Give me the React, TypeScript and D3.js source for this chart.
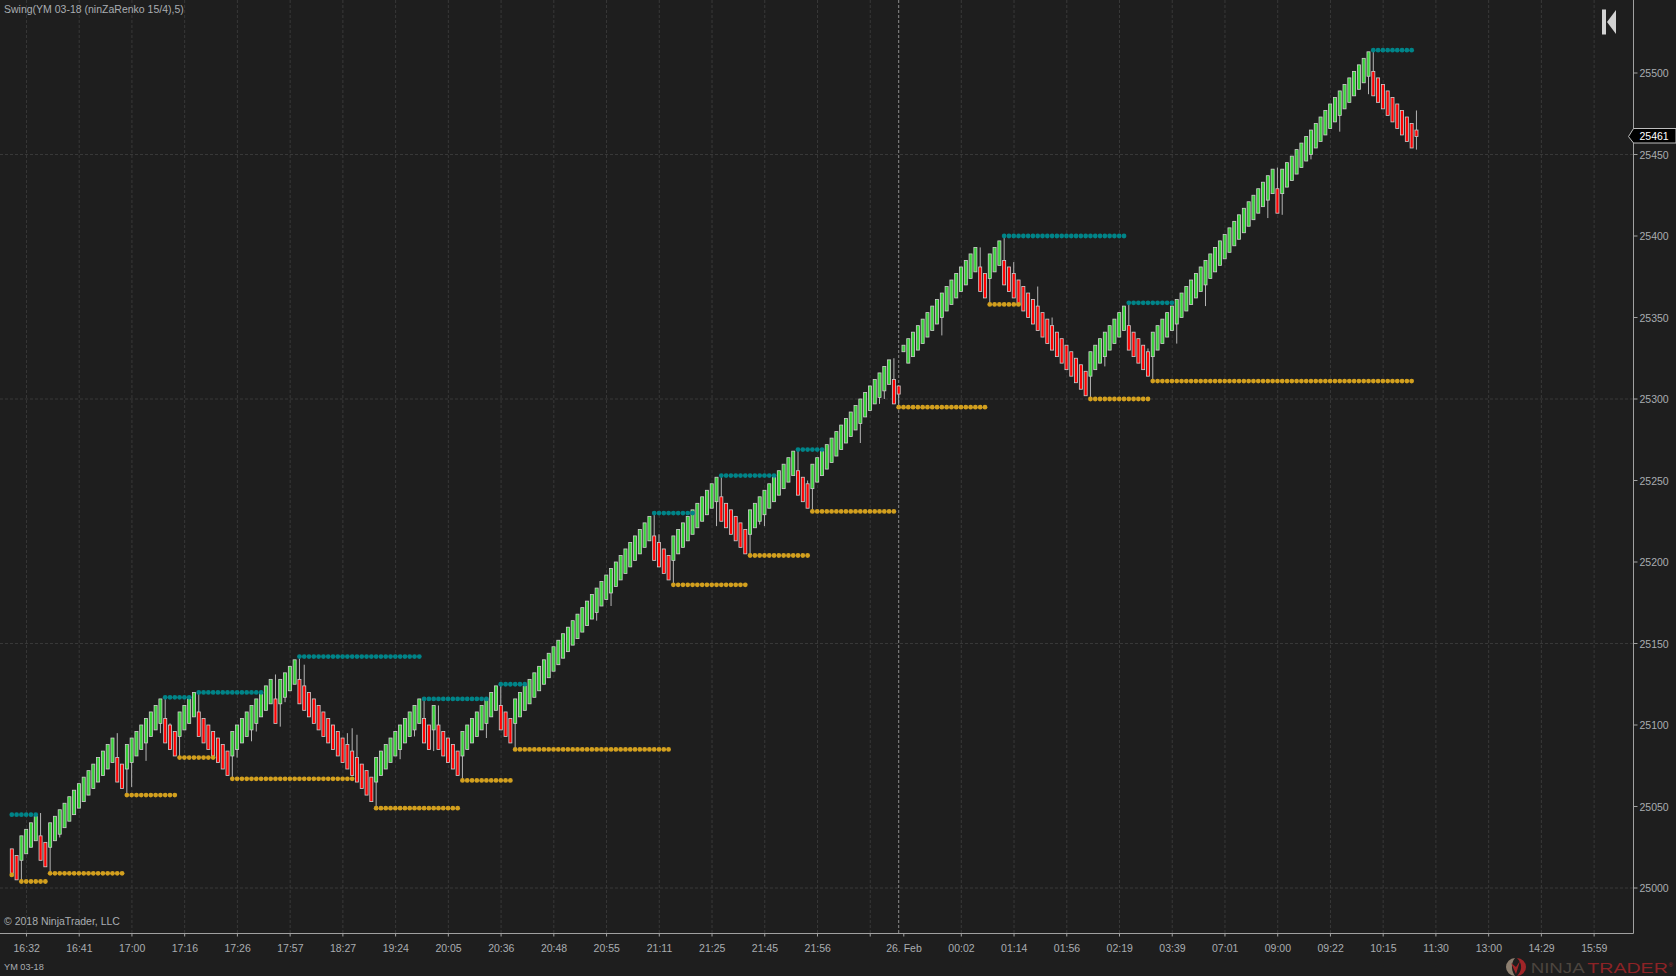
import React from "react";
import * as d3 from "d3";

// Renko bar bodies, one entry per bar, grouped by run
const closes = [
  25009, 25005,
  25032, 25036, 25040, 25044,
  25017, 25013,
  25040, 25044, 25048, 25052, 25056, 25060, 25064, 25068, 25072, 25076, 25080, 25084, 25088, 25092,
  25065, 25061,
  25088, 25092, 25096, 25100, 25104, 25108, 25112, 25116,
  25089, 25085, 25081,
  25108, 25112, 25116, 25120,
  25093, 25089, 25085, 25081, 25077, 25073, 25069,
  25096, 25100, 25104, 25108, 25112, 25116, 25120, 25124, 25128,
  25101,
  25128, 25132, 25136, 25140,
  25113, 25109, 25105, 25101, 25097, 25093, 25089, 25085, 25081, 25077, 25073, 25069, 25065, 25061, 25057, 25053,
  25080, 25084, 25088, 25092, 25096, 25100, 25104, 25108, 25112, 25116,
  25089, 25085,
  25112,
  25085, 25081, 25077, 25073, 25069,
  25096, 25100, 25104, 25108, 25112, 25116, 25120, 25124,
  25097, 25093, 25089,
  25116, 25120, 25124, 25128, 25132, 25136, 25140, 25144, 25148, 25152, 25156, 25160, 25164, 25168, 25172, 25176, 25180, 25184, 25188, 25192, 25196, 25200, 25204, 25208, 25212, 25216, 25220, 25224, 25228,
  25201, 25197, 25193, 25189,
  25216, 25220, 25224, 25228, 25232, 25236, 25240, 25244, 25248, 25252,
  25225, 25221, 25217, 25213, 25209, 25205,
  25232, 25236, 25240, 25244, 25248, 25252, 25256, 25260, 25264, 25268,
  25241, 25237, 25233,
  25260, 25264, 25268, 25272, 25276, 25280, 25284, 25288, 25292, 25296, 25300, 25304, 25308, 25312, 25316, 25320, 25324,
  25297,
  25303,
  25333,
  25337, 25341, 25345, 25349, 25353, 25357, 25361, 25365, 25369, 25373, 25377, 25381, 25385, 25389, 25393,
  25366, 25362,
  25389, 25393, 25397,
  25370, 25366, 25362, 25358, 25354, 25350, 25346, 25342, 25338, 25334, 25330, 25326, 25322, 25318, 25314, 25310, 25306, 25302,
  25329, 25333, 25337, 25341, 25345, 25349, 25353, 25357,
  25330, 25326, 25322, 25318, 25314,
  25341, 25345, 25349, 25353, 25357, 25361, 25365, 25369, 25373, 25377, 25381, 25385, 25389, 25393, 25397, 25401, 25405, 25409, 25413, 25417, 25421, 25425, 25429, 25433, 25437, 25441,
  25414,
  25441, 25445, 25449, 25453, 25457, 25461, 25465, 25469, 25473, 25477, 25481, 25485, 25489, 25493, 25497, 25501, 25505, 25509, 25513,
  25486, 25482, 25478, 25474, 25470, 25466, 25462, 25458, 25454,
  25461,
];

const opens = [
  25024, 25020,
  25017, 25021, 25025, 25029,
  25032, 25028,
  25025, 25029, 25033, 25037, 25041, 25045, 25049, 25053, 25057, 25061, 25065, 25069, 25073, 25077,
  25080, 25076,
  25073, 25077, 25081, 25085, 25089, 25093, 25097, 25101,
  25104, 25100, 25096,
  25093, 25097, 25101, 25105,
  25108, 25104, 25100, 25096, 25092, 25088, 25084,
  25081, 25085, 25089, 25093, 25097, 25101, 25105, 25109, 25113,
  25116,
  25113, 25117, 25121, 25125,
  25128, 25124, 25120, 25116, 25112, 25108, 25104, 25100, 25096, 25092, 25088, 25084, 25080, 25076, 25072, 25068,
  25065, 25069, 25073, 25077, 25081, 25085, 25089, 25093, 25097, 25101,
  25104, 25100,
  25097,
  25100, 25096, 25092, 25088, 25084,
  25081, 25085, 25089, 25093, 25097, 25101, 25105, 25109,
  25112, 25108, 25104,
  25101, 25105, 25109, 25113, 25117, 25121, 25125, 25129, 25133, 25137, 25141, 25145, 25149, 25153, 25157, 25161, 25165, 25169, 25173, 25177, 25181, 25185, 25189, 25193, 25197, 25201, 25205, 25209, 25213,
  25216, 25212, 25208, 25204,
  25201, 25205, 25209, 25213, 25217, 25221, 25225, 25229, 25233, 25237,
  25240, 25236, 25232, 25228, 25224, 25220,
  25217, 25221, 25225, 25229, 25233, 25237, 25241, 25245, 25249, 25253,
  25256, 25252, 25248,
  25245, 25249, 25253, 25257, 25261, 25265, 25269, 25273, 25277, 25281, 25285, 25289, 25293, 25297, 25301, 25305, 25309,
  25312,
  25308,
  25329,
  25322, 25326, 25330, 25334, 25338, 25342, 25346, 25350, 25354, 25358, 25362, 25366, 25370, 25374, 25378,
  25381, 25377,
  25374, 25378, 25382,
  25385, 25381, 25377, 25373, 25369, 25365, 25361, 25357, 25353, 25349, 25345, 25341, 25337, 25333, 25329, 25325, 25321, 25317,
  25314, 25318, 25322, 25326, 25330, 25334, 25338, 25342,
  25345, 25341, 25337, 25333, 25329,
  25326, 25330, 25334, 25338, 25342, 25346, 25350, 25354, 25358, 25362, 25366, 25370, 25374, 25378, 25382, 25386, 25390, 25394, 25398, 25402, 25406, 25410, 25414, 25418, 25422, 25426,
  25429,
  25426, 25430, 25434, 25438, 25442, 25446, 25450, 25454, 25458, 25462, 25466, 25470, 25474, 25478, 25482, 25486, 25490, 25494, 25498,
  25501, 25497, 25493, 25489, 25485, 25481, 25477, 25473, 25469,
  25465,
];

// Wicks that stick out of a body: [bar, price reached]
const wicks: [number, number][] = [
  [2, 25004], [6, 25046], [8, 25009], [10, 25031], [22, 25095], [24, 25057], [25, 25062], [28, 25078],
  [31, 25095], [32, 25116], [33, 25101], [35, 25080], [39, 25120], [46, 25067], [47, 25080], [50, 25090],
  [51, 25096], [55, 25131], [56, 25099], [57, 25114], [60, 25141], [61, 25137], [70, 25095], [71, 25098],
  [72, 25094], [76, 25049], [81, 25079], [84, 25093], [86, 25116], [88, 25084], [89, 25112], [94, 25066],
  [99, 25092], [102, 25125], [105, 25085], [122, 25164], [125, 25173], [134, 25230], [135, 25217], [138, 25186],
  [147, 25222], [148, 25253], [154, 25204], [156, 25223], [157, 25222], [164, 25269], [166, 25250], [167, 25231],
  [177, 25273], [181, 25297], [182, 25300], [184, 25325], [185, 25295], [194, 25339], [202, 25393], [204, 25358],
  [207, 25400], [209, 25384], [214, 25369], [217, 25350], [225, 25300], [228, 25320], [233, 25359], [237, 25331],
  [238, 25311], [243, 25334], [249, 25357], [262, 25411], [264, 25442], [265, 25413], [271, 25447], [277, 25464],
  [283, 25487], [284, 25514], [293, 25477], [293, 25453],
];

// Swing indicator: [first bar, last bar, price]
const swingHighs: [number, number, number][] = [
  [0, 5, 25045], [32, 37, 25117], [39, 52, 25120], [60, 85, 25142], [86, 99, 25116], [102, 107, 25125],
  [134, 142, 25230], [148, 159, 25253], [164, 169, 25269], [207, 232, 25400], [233, 242, 25359], [284, 292, 25514],
];
const swingLows: [number, number, number][] = [
  [0, 0, 25008], [2, 7, 25004], [8, 23, 25009], [24, 34, 25057], [35, 42, 25080], [46, 71, 25067],
  [76, 93, 25049], [94, 104, 25066], [105, 137, 25085], [138, 153, 25186], [154, 166, 25204], [167, 184, 25231],
  [185, 203, 25295], [204, 210, 25358], [225, 237, 25300], [238, 292, 25311],
];

// Axes
const priceLabels = [25000, 25050, 25100, 25150, 25200, 25250, 25300, 25350, 25400, 25450, 25500];
const gridPrices = [25000, 25150, 25300, 25450];
const timeTickBars = [3, 14, 25, 36, 47, 58, 69, 80, 91, 102, 113, 124, 135, 146, 157, 168, 186, 198, 209, 220, 231, 242, 253, 264, 275, 286, 297, 308, 319, 330];
const timeTickLabels = ["16:32", "16:41", "17:00", "17:16", "17:26", "17:57", "18:27", "19:24", "20:05", "20:36", "20:48", "20:55", "21:11", "21:25", "21:45", "21:56", "26. Feb", "00:02", "01:14", "01:56", "02:19", "03:39", "07:01", "09:00", "09:22", "10:15", "11:30", "13:00", "14:29", "15:59"];
const unlabeledGridBars = [179];
const noGridBars = [186];
const sessionBreakBar = 185;
const lastPrice = 25461;

const W = 1676;
const H = 976;
const AXIS_X = 1633.5;
const AXIS_Y = 933.5;
const FONT = "'Liberation Sans', Arial, sans-serif";
const BG = "#1e1e1e";
const LABEL = "#a9adb1";

const x = d3.scaleLinear().domain([0, 293]).range([11.8, 11.8 + 293 * 4.794]);
const y = d3.scaleLinear().domain([25000, 25500]).range([888, 73]);

function dots(segments: [number, number, number][]) {
  return segments.flatMap(([a, b, p]) => d3.range(a, b + 1).map((i) => ({ i, p })));
}

export default function App() {
  const gridBars = [...timeTickBars.filter((b) => !noGridBars.includes(b)), ...unlabeledGridBars];
  const bodyW = 3.05;
  return (
    <svg
      width={W}
      height={H}
      viewBox={`0 0 ${W} ${H}`}
      style={{ position: "fixed", left: 0, top: 0, display: "block" }}
      fontFamily={FONT}
    >
      <rect x={0} y={0} width={W} height={H} fill={BG} />

      {/* grid */}
      {gridBars.map((b) => (
        <line key={`vg${b}`} x1={x(b) + 0.3} x2={x(b) + 0.3} y1={0} y2={AXIS_Y} stroke="#383838" strokeDasharray="3 2" />
      ))}
      {gridPrices.map((p) => (
        <line key={`hg${p}`} x1={0} x2={AXIS_X} y1={y(p)} y2={y(p)} stroke="#383838" strokeDasharray="3 2" />
      ))}
      <line x1={x(sessionBreakBar)} x2={x(sessionBreakBar)} y1={0} y2={AXIS_Y} stroke="#8c8c8c" strokeDasharray="3 2" />

      {/* wicks */}
      {wicks.map(([b, p], k) => {
        const edge = p > Math.max(opens[b], closes[b]) ? Math.max(opens[b], closes[b]) : Math.min(opens[b], closes[b]);
        return <line key={`w${k}`} x1={x(b)} x2={x(b)} y1={y(edge)} y2={y(p)} stroke="#b4b4b4" strokeWidth={1} />;
      })}

      {/* bodies */}
      {closes.map((c, i) => {
        const o = opens[i];
        const up = c > o;
        return (
          <rect
            key={`b${i}`}
            x={x(i) - bodyW / 2}
            y={y(Math.max(o, c))}
            width={bodyW}
            height={Math.abs(y(o) - y(c))}
            fill={up ? "#36d136" : "#ff0000"}
            stroke="#cfcfcf"
            strokeWidth={0.8}
          />
        );
      })}

      {/* swing dots */}
      {dots(swingHighs).map((d, k) => (
        <circle key={`h${k}`} cx={x(d.i)} cy={y(d.p)} r={2.4} fill="#008488" />
      ))}
      {dots(swingLows).map((d, k) => (
        <circle key={`l${k}`} cx={x(d.i)} cy={y(d.p)} r={2.4} fill="#d29f1e" />
      ))}

      {/* axes */}
      <line x1={0} x2={AXIS_X} y1={AXIS_Y} y2={AXIS_Y} stroke="#a0a0a0" />
      <line x1={AXIS_X} x2={AXIS_X} y1={0} y2={AXIS_Y} stroke="#a0a0a0" />
      {priceLabels.map((p) => (
        <g key={`pl${p}`}>
          <line x1={AXIS_X} x2={AXIS_X + 4} y1={y(p)} y2={y(p)} stroke="#a0a0a0" />
          <text x={1639.5} y={y(p) + 4} fontSize={10.5} fill={LABEL}>{p}</text>
        </g>
      ))}
      {[...timeTickBars, ...unlabeledGridBars].map((b) => (
        <line key={`tt${b}`} x1={x(b) + 0.3} x2={x(b) + 0.3} y1={AXIS_Y} y2={AXIS_Y + 3} stroke="#a0a0a0" />
      ))}
      {timeTickBars.map((b, k) => (
        <text key={`tl${b}`} x={x(b) + 0.5} y={952} fontSize={10.5} fill={LABEL} textAnchor="middle">{timeTickLabels[k]}</text>
      ))}

      {/* last price marker */}
      <path d={`M1628.5 ${y(lastPrice)} L1633.5 128.5 L1676 128.5 L1676 143 L1633.5 143 Z`} fill="#000" stroke="#bdbdbd" />
      <text x={1639.5} y={y(lastPrice) + 3.6} fontSize={10.5} fill="#fff">{lastPrice}</text>

      {/* captions */}
      <text x={4} y={13} fontSize={10.5} fill={LABEL}>Swing(YM 03-18 (ninZaRenko 15/4),5)</text>
      <text x={4} y={925} fontSize={10.5} fill={LABEL}>© 2018 NinjaTrader, LLC</text>
      <text x={4} y={970} fontSize={9.2} fill={LABEL}>YM 03-18</text>

      {/* chart-scroll icon */}
      <rect x={1602} y={9.5} width={4} height={25} fill="#d2d2d2" />
      <path d="M1607 22 L1616 10 L1616 34 Z" fill="#d2d2d2" />

      {/* NinjaTrader logo */}
      <path d="M1515 958 A9 9 0 0 0 1515 976 C1512 972 1510 964 1515 958 Z" fill="#8d7f70" />
      <path d="M1517 958 A9 9 0 0 1 1517 976 C1522 971 1523 964 1517 958 Z" fill="#a02528" />
      <path d="M1511 963 L1516 974 L1520 961 L1516 967 Z" fill="#a02528" />
      <text x={1530.7} y={972.5} fontSize={15} fill="#4c453e" textLength={54} lengthAdjust="spacingAndGlyphs">NINJA</text>
      <text x={1587.3} y={972.5} fontSize={15} fill="#8c2326" textLength={80.5} lengthAdjust="spacingAndGlyphs">TRADER</text>
      <text x={1668.5} y={967} fontSize={6} fill="#a02528">®</text>
    </svg>
  );
}
